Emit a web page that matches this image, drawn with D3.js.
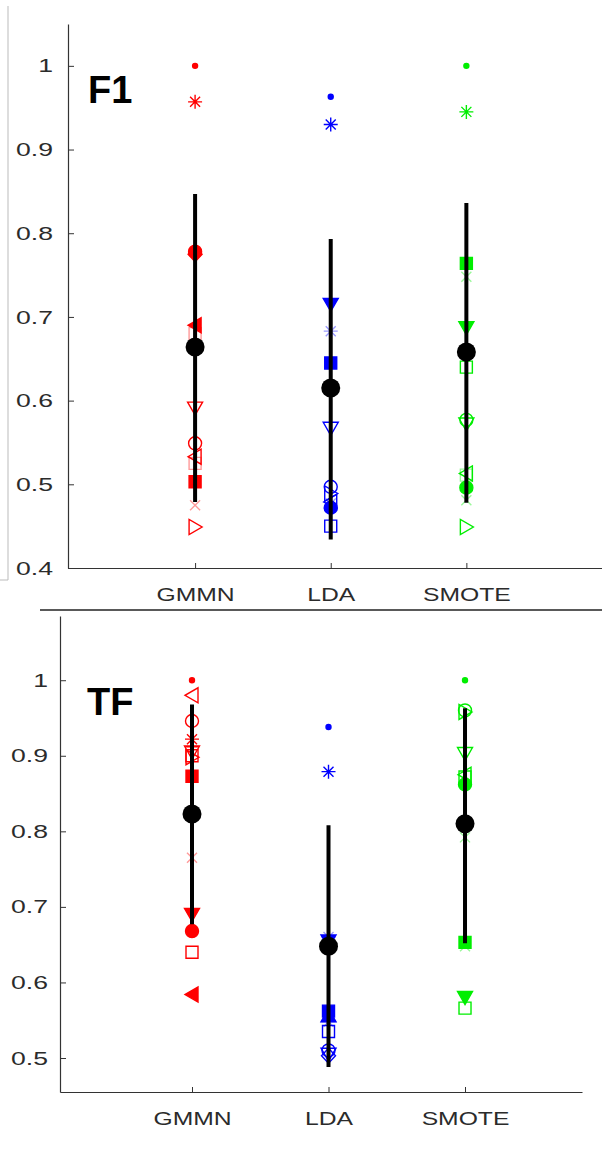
<!DOCTYPE html>
<html lang="en">
<head>
  <meta charset="UTF-8">
  <title>F1 / TF by sampler</title>
  <script src="https://d3js.org/d3.v7.min.js"></script>
  <style>
    body { margin: 0; background: #fff; }
    text { font-family: "Liberation Sans", Arial, sans-serif; }
  </style>
</head>
<body>
  <div id="chart"></div>

  <script>
    // categories and tick labels
    const categories = ['GMMN', 'LDA', 'SMOTE'];
    const f1Ticks = [0.4, 0.5, 0.6, 0.7, 0.8, 0.9, 1];
    const tfTicks = [0.5, 0.6, 0.7, 0.8, 0.9, 1];

    // per-dataset scores (marker codes: ! = filled, ~ = faded)
    const f1Gmmn      = [1.000, 0.957, 0.778, 0.775, 0.690, 0.680, 0.591, 0.549, 0.533, 0.525, 0.503, 0.475, 0.449];
    const f1GmmnMarks = ['.', '*', 'o!', 'd!', '<!', 's~', 'v', 'o', '<', 's~', 's!', 'x~', '>'];
    const f1Lda       = [0.963, 0.930, 0.715, 0.683, 0.645, 0.567, 0.497, 0.489, 0.479, 0.477, 0.472, 0.450];
    const f1LdaMarks  = ['.', '*', 'v!', '*~', 's!', 'v', 'o', '>', '<', 'x~', 'o!', 's'];
    const f1Smote      = [1.000, 0.945, 0.764, 0.748, 0.687, 0.640, 0.577, 0.572, 0.513, 0.511, 0.496, 0.481, 0.449];
    const f1SmoteMarks = ['.', '*', 's!', 'x~', 'v!', 's', 'o', 'v', '<', 's~', 'o!', 'x~', '>'];

    const tfGmmn      = [1.000, 0.980, 0.946, 0.922, 0.912, 0.905, 0.900, 0.898, 0.873, 0.765, 0.690, 0.668, 0.640, 0.584];
    const tfGmmnMarks = ['.', '<', 'o', '*', '+', 'v', 's', '>', 's!', 'x~', 'v!', 'o!', 's', '<!'];
    const tfLda       = [0.938, 0.879, 0.660, 0.655, 0.562, 0.556, 0.548, 0.535, 0.510, 0.505, 0.503];
    const tfLdaMarks  = ['.', '*', '*~', 'v!', 's!', '^!', '*~', 's', 'o', 'v', 'd'];
    const tfSmote      = [1.000, 0.960, 0.958, 0.903, 0.875, 0.872, 0.862, 0.792, 0.653, 0.648, 0.580, 0.566];
    const tfSmoteMarks = ['.', 'o', '>', 'v', '<', 's', 'o!', 'x~', 's!', 'x~', 'v!', 's'];

    // mean and mean +/- std per category
    const f1Mean = [0.664, 0.615, 0.658];
    const f1Low  = [0.479, 0.434, 0.478];
    const f1High = [0.847, 0.793, 0.836];
    const tfMean = [0.823, 0.648, 0.810];
    const tfLow  = [0.677, 0.488, 0.652];
    const tfHigh = [0.968, 0.808, 0.963];

    const colors = ['#ff0000', '#0000ff', '#00ee00'];

    const W = 602, H = 1150;
    const svg = d3.select('#chart').append('svg')
      .attr('width', W)
      .attr('height', H);

    // screenshot frame bits
    svg.append('line').attr('x1', 8).attr('x2', 8).attr('y1', 6).attr('y2', 580)
      .attr('stroke', '#bbb').attr('stroke-width', 1);
    svg.append('line').attr('x1', 0).attr('x2', 8).attr('y1', 580).attr('y2', 580)
      .attr('stroke', '#bbb').attr('stroke-width', 1);
    svg.append('line').attr('x1', 40).attr('x2', 602).attr('y1', 610).attr('y2', 610)
      .attr('stroke', '#222').attr('stroke-width', 1.5);

    function markerPath(code) {
      const m = code[0];
      const p = d3.path();
      if (m === '.') { p.arc(0, 0, 2.5, 0, 2 * Math.PI); }
      else if (m === 'o') { p.arc(0, 0, 6.5, 0, 2 * Math.PI); }
      else if (m === 's') { p.rect(-6, -6, 12, 12); }
      else if (m === 'd') { p.moveTo(0, -7.5); p.lineTo(7, 0); p.lineTo(0, 7.5); p.lineTo(-7, 0); p.closePath(); }
      else if (m === 'v') { p.moveTo(-7.5, -6); p.lineTo(7.5, -6); p.lineTo(0, 7); p.closePath(); }
      else if (m === '^') { p.moveTo(-7.5, 6); p.lineTo(7.5, 6); p.lineTo(0, -7); p.closePath(); }
      else if (m === '<') { p.moveTo(6, -7.5); p.lineTo(6, 7.5); p.lineTo(-7, 0); p.closePath(); }
      else if (m === '>') { p.moveTo(-6, -7.5); p.lineTo(-6, 7.5); p.lineTo(7, 0); p.closePath(); }
      else if (m === 'x') { p.moveTo(-5, -5); p.lineTo(5, 5); p.moveTo(-5, 5); p.lineTo(5, -5); }
      else if (m === '+') { p.moveTo(-6, 0); p.lineTo(6, 0); p.moveTo(0, -6); p.lineTo(0, 6); }
      else if (m === '*') {
        p.moveTo(-7, 0); p.lineTo(7, 0); p.moveTo(0, -7); p.lineTo(0, 7);
        p.moveTo(-5, -5); p.lineTo(5, 5); p.moveTo(-5, 5); p.lineTo(5, -5);
      }
      return p.toString();
    }

    function drawPanel(cfg) {
      const g = svg.append('g');

      const x = d3.scaleLinear().domain(cfg.xDomain).range([cfg.left, cfg.right]);
      const y = d3.scaleLinear().domain(cfg.yDomain).range([cfg.bottom, cfg.top]);

      // axes, MATLAB style ticks pointing inward
      const yAxis = g.append('g')
        .attr('transform', `translate(${cfg.left},0)`)
        .call(d3.axisLeft(y).tickValues(cfg.ticks).tickFormat(d3.format('~g'))
          .tickSizeInner(-6).tickSizeOuter(0).tickPadding(14));
      const xAxis = g.append('g')
        .attr('transform', `translate(0,${cfg.bottom})`)
        .call(d3.axisBottom(x).tickValues([1, 2, 3]).tickFormat(d => categories[d - 1])
          .tickSizeInner(-5).tickSizeOuter(0).tickPadding(20));
      [yAxis, xAxis].forEach(a => {
        a.select('.domain').attr('stroke', '#333').attr('stroke-width', 1.2);
        a.selectAll('.tick line').attr('stroke', '#333');
        a.selectAll('.tick text').attr('fill', '#2b2b2b').attr('font-size', 19);
      });
      // the source image is stretched sideways, so widen the tick text
      yAxis.selectAll('.tick text').attr('x', 0)
        .attr('transform', `translate(${cfg.labelGap},0) scale(1.4,1)`);
      xAxis.selectAll('.tick text')
        .attr('transform', 'scale(1.3,1)');

      g.append('text')
        .attr('x', cfg.labelX).attr('y', cfg.labelY)
        .attr('font-size', 38).attr('font-weight', 'bold')
        .text(cfg.title);

      // dataset markers
      cfg.series.forEach((vals, ci) => {
        const marks = cfg.marks[ci];
        g.append('g').selectAll('path')
          .data(vals.map((v, i) => ({ v, code: marks[i] })))
          .join('path')
          .attr('transform', d => `translate(${x(ci + 1)},${y(d.v)})`)
          .attr('d', d => markerPath(d.code))
          .attr('fill', d => (d.code.includes('!') || d.code[0] === '.') ? colors[ci] : 'none')
          .attr('stroke', colors[ci])
          .attr('stroke-width', 1.4)
          .attr('opacity', d => d.code.includes('~') ? 0.4 : 1);
      });

      // mean +/- std
      g.append('g').selectAll('line')
        .data(categories)
        .join('line')
        .attr('x1', (d, i) => x(i + 1)).attr('x2', (d, i) => x(i + 1))
        .attr('y1', (d, i) => y(cfg.low[i])).attr('y2', (d, i) => y(cfg.high[i]))
        .attr('stroke', '#000').attr('stroke-width', 4);
      g.append('g').selectAll('circle')
        .data(categories)
        .join('circle')
        .attr('cx', (d, i) => x(i + 1)).attr('cy', (d, i) => y(cfg.mean[i]))
        .attr('r', 9.5).attr('fill', '#000');
    }

    drawPanel({
      title: 'F1', labelX: 88, labelY: 103, labelGap: -15,
      left: 68, right: 602, top: 24, bottom: 568,
      xDomain: [0.063, 4.0], yDomain: [0.4, 1.05], ticks: f1Ticks,
      series: [f1Gmmn, f1Lda, f1Smote],
      marks: [f1GmmnMarks, f1LdaMarks, f1SmoteMarks],
      mean: f1Mean, low: f1Low, high: f1High
    });

    drawPanel({
      title: 'TF', labelX: 87, labelY: 715, labelGap: -12,
      left: 60, right: 582, top: 616, bottom: 1092,
      xDomain: [0.033, 3.857], yDomain: [0.455, 1.085], ticks: tfTicks,
      series: [tfGmmn, tfLda, tfSmote],
      marks: [tfGmmnMarks, tfLdaMarks, tfSmoteMarks],
      mean: tfMean, low: tfLow, high: tfHigh
    });
  </script>
</body>
</html>
